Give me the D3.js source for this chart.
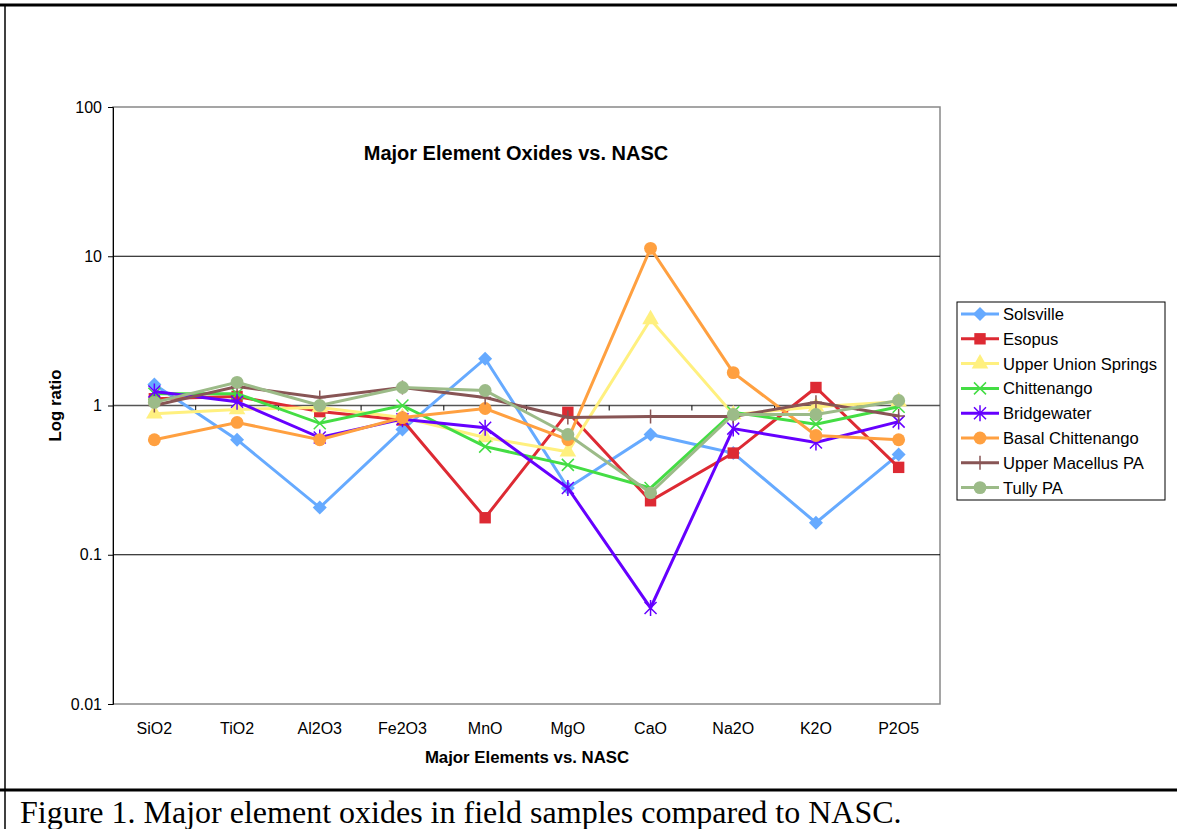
<!DOCTYPE html>
<html>
<head>
<meta charset="utf-8">
<script src="https://cdn.jsdelivr.net/npm/d3@7"></script>
<style>
body { margin: 0; background: #fff; }
svg { display: block; }
text { font-family: Arial, "Liberation Sans", sans-serif; }
</style>
</head>
<body>
<svg id="canvas" width="1177" height="829"></svg>
<script>

var categories = ["SiO2", "TiO2", "Al2O3", "Fe2O3", "MnO", "MgO", "CaO", "Na2O", "K2O", "P2O5"];
var yTicks = [0.01, 0.1, 1, 10, 100];

var solsville      = [1.38, 0.59, 0.207, 0.69, 2.06, 0.28, 0.64, 0.48, 0.164, 0.47];
var esopus         = [1.11, 1.15, 0.91, 0.80, 0.177, 0.90, 0.23, 0.48, 1.32, 0.385];
var upperUnion     = [0.88, 0.94, 0.97, 0.83, 0.61, 0.49, 3.77, 0.87, 0.98, 1.06];
var chittenango    = [1.20, 1.20, 0.76, 1.0, 0.53, 0.40, 0.28, 0.90, 0.75, 0.98];
var bridgewater    = [1.24, 1.06, 0.61, 0.81, 0.71, 0.28, 0.044, 0.70, 0.565, 0.78];
var basalChitt     = [0.59, 0.77, 0.59, 0.83, 0.955, 0.59, 11.3, 1.66, 0.63, 0.59];
var upperMacellus  = [1.0, 1.34, 1.13, 1.32, 1.13, 0.83, 0.845, 0.845, 1.05, 0.85];
var tully          = [1.05, 1.43, 1.0, 1.32, 1.26, 0.64, 0.26, 0.87, 0.87, 1.08];

var seriesNames = ["Solsville", "Esopus", "Upper Union Springs", "Chittenango", "Bridgewater", "Basal Chittenango", "Upper Macellus PA", "Tully PA"];
var seriesColors = ["#66aaff", "#dd2a33", "#fff07f", "#44dd44", "#6600ff", "#ffa040", "#885555", "#9cbb88"];
var seriesMarkers = ["diamond", "square", "triangle", "x", "star", "circle", "plus", "circle"];
var seriesValues = [solsville, esopus, upperUnion, chittenango, bridgewater, basalChitt, upperMacellus, tully];

var svg = d3.select("#canvas");

var plot = {left: 113, right: 940, top: 107, bottom: 704};

var x = d3.scaleBand()
	.domain(categories)
	.range([plot.left, plot.right]);

var y = d3.scaleLog()
	.domain([0.01, 100])
	.range([plot.bottom, plot.top]);

// outer frame
svg.append("line").attr("x1", 0).attr("x2", 1177).attr("y1", 5).attr("y2", 5)
	.style("stroke", "#000").style("stroke-width", 3);
svg.append("line").attr("x1", 5).attr("x2", 5).attr("y1", 5).attr("y2", 829)
	.style("stroke", "#000").style("stroke-width", 1.5);
svg.append("line").attr("x1", 0).attr("x2", 1177).attr("y1", 790).attr("y2", 790)
	.style("stroke", "#000").style("stroke-width", 3);

// plot area border
svg.append("rect")
	.attr("x", plot.left).attr("y", plot.top)
	.attr("width", plot.right - plot.left).attr("height", plot.bottom - plot.top)
	.style("fill", "#fff").style("stroke", "#888").style("stroke-width", 1.5);

// gridlines
svg.append("g").selectAll("line")
	.data([10, 1, 0.1])
	.enter().append("line")
	.attr("x1", plot.left).attr("x2", plot.right)
	.attr("y1", function(d) { return y(d); })
	.attr("y2", function(d) { return y(d); })
	.style("stroke", function(d) { return d == 1 ? "#555" : "#000"; })
	.style("stroke-width", function(d) { return d == 1 ? 1.5 : 1; });

// y axis
var yAxis = d3.axisLeft(y)
	.tickValues(yTicks)
	.tickFormat(function(d) { return d; })
	.tickSize(5)
	.tickPadding(6);

var yg = svg.append("g")
	.attr("transform", "translate(" + plot.left + ",0)")
	.call(yAxis);
yg.select(".domain").style("stroke", "#000");
yg.selectAll("text").style("font-size", "16px").style("font-family", "Arial, 'Liberation Sans', sans-serif");

// x axis crossing at 1, ticks between categories
var xTickPos = d3.range(1, categories.length).map(function(i) { return plot.left + i * x.bandwidth(); });
svg.append("g").selectAll("line")
	.data(xTickPos)
	.enter().append("line")
	.attr("x1", function(d) { return d; }).attr("x2", function(d) { return d; })
	.attr("y1", y(1)).attr("y2", y(1) + 5)
	.style("stroke", "#000").style("stroke-width", 1);

svg.append("g").selectAll("text")
	.data(categories)
	.enter().append("text")
	.attr("x", function(d) { return x(d) + x.bandwidth() / 2; })
	.attr("y", 734)
	.attr("text-anchor", "middle")
	.style("font-size", "16px")
	.text(function(d) { return d; });

// titles
svg.append("text")
	.attr("x", 516).attr("y", 160)
	.attr("text-anchor", "middle")
	.style("font-size", "20px").style("font-weight", "bold")
	.text("Major Element Oxides vs. NASC");

svg.append("text")
	.attr("x", 527).attr("y", 763)
	.attr("text-anchor", "middle")
	.style("font-size", "16.8px").style("font-weight", "bold")
	.text("Major Elements vs. NASC");

svg.append("text")
	.attr("transform", "translate(61," + y(1) + ") rotate(-90)")
	.attr("text-anchor", "middle")
	.style("font-size", "16.8px").style("font-weight", "bold")
	.text("Log ratio");

svg.append("text")
	.attr("x", 20).attr("y", 823)
	.style("font-family", "'Liberation Serif', 'Times New Roman', serif")
	.style("font-size", "32px")
	.text("Figure 1. Major element oxides in field samples compared to NASC.");

// markers
function markerPath(type) {
	var s = 6;
	if (type == "diamond") return "M0,-7L7,0L0,7L-7,0Z";
	if (type == "square") return d3.symbol().type(d3.symbolSquare).size(130)();
	if (type == "triangle") return d3.symbol().type(d3.symbolTriangle).size(120)();
	if (type == "circle") return d3.symbol().type(d3.symbolCircle).size(130)();
	if (type == "x") return "M-6,-6L6,6M-6,6L6,-6";
	if (type == "plus") return "M0,-7L0,7M-6,0L6,0";
	if (type == "star") return "M-6,-6L6,6M-6,6L6,-6M0,-8L0,8";
}
function isOpen(type) { return type == "x" || type == "plus" || type == "star"; }

var line = d3.line()
	.x(function(d, i) { return x(categories[i]) + x.bandwidth() / 2; })
	.y(function(d) { return y(d); });

seriesValues.forEach(function(vals, k) {
	var g = svg.append("g").attr("class", "series");
	g.append("path")
		.attr("d", line(vals))
		.style("fill", "none")
		.style("stroke", seriesColors[k])
		.style("stroke-width", 3);
	g.selectAll("path.m")
		.data(vals)
		.enter().append("path")
		.attr("class", "m")
		.attr("transform", function(d, i) { return "translate(" + (x(categories[i]) + x.bandwidth() / 2) + "," + y(d) + ")"; })
		.attr("d", markerPath(seriesMarkers[k]))
		.style("fill", isOpen(seriesMarkers[k]) ? "none" : seriesColors[k])
		.style("stroke", seriesColors[k])
		.style("stroke-width", isOpen(seriesMarkers[k]) ? 1.5 : 0);
});

// legend
var legend = svg.append("g").attr("transform", "translate(957,302)");
legend.append("rect")
	.attr("width", 208).attr("height", 198)
	.style("fill", "#fff").style("stroke", "#000").style("stroke-width", 1);

var items = legend.selectAll("g.item")
	.data(seriesNames)
	.enter().append("g")
	.attr("class", "item")
	.attr("transform", function(d, i) { return "translate(0," + (12 + i * 24.8) + ")"; });

items.append("line")
	.attr("x1", 4).attr("x2", 42)
	.style("stroke", function(d, i) { return seriesColors[i]; })
	.style("stroke-width", 3);
items.append("path")
	.attr("transform", "translate(23,0)")
	.attr("d", function(d, i) { return markerPath(seriesMarkers[i]); })
	.style("fill", function(d, i) { return isOpen(seriesMarkers[i]) ? "none" : seriesColors[i]; })
	.style("stroke", function(d, i) { return seriesColors[i]; })
	.style("stroke-width", function(d, i) { return isOpen(seriesMarkers[i]) ? 1.5 : 0; });
items.append("text")
	.attr("x", 46).attr("y", 6)
	.style("font-size", "16.6px")
	.text(function(d) { return d; });

</script>
</body>
</html>
